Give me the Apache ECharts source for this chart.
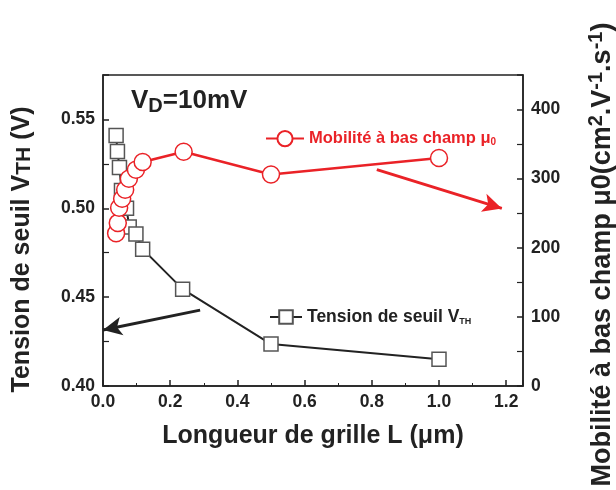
<!DOCTYPE html>
<html>
<head>
<meta charset="utf-8">
<script src="https://cdn.jsdelivr.net/npm/echarts@6/dist/echarts.min.js"></script>
<style>
  html, body { margin: 0; padding: 0; background: #fff; }
  #chart { width: 616px; height: 490px; }
</style>
</head>
<body>
<div id="chart"></div>
<script>
// gate length L (um) and threshold voltage (V)
var lengthVth = [0.039, 0.043, 0.049, 0.055, 0.070, 0.078, 0.098, 0.118, 0.237, 0.50, 1.00];
var vth = [0.541, 0.532, 0.523, 0.510, 0.500, 0.4895, 0.4855, 0.477, 0.4545, 0.4236, 0.415];

// gate length L (um) and low field mobility (cm2/V.s)
var lengthMu = [0.039, 0.044, 0.048, 0.057, 0.066, 0.077, 0.098, 0.118, 0.24, 0.50, 1.00];
var mu = [221, 236, 258, 271, 284, 300, 313, 324, 339, 306, 330];

// arrows pointing at the axes
var arrowVth = [[0.289, 0.4427], [0.0, 0.4315]];
var arrowMu = [[0.815, 313], [1.187, 257]];

var xTicks = { min: 0, max: 1.25, interval: 0.2 };
var leftTicks = { min: 0.40, max: 0.575, interval: 0.05 };
var rightTicks = { min: 0, max: 450, interval: 100 };

function pairs(xs, ys) {
	var out = [];
	for (var i = 0; i < xs.length; i++) {
		out.push([xs[i], ys[i]]);
	}
	return out;
}

var font = "Liberation Sans";
var red = "#ea2227";

var chart = echarts.init(document.getElementById('chart'));

chart.setOption({
	animation: false,
	textStyle: { fontFamily: font },
	title: {
		text: '{b|V}{s|D}{b|=10mV}',
		left: 126,
		top: 81,
		textStyle: {
			rich: {
				b: { fontFamily: font, fontWeight: 'bold', fontSize: 26, color: '#222' },
				s: { fontFamily: font, fontWeight: 'bold', fontSize: 20, color: '#222', padding: [10, 0, 0, 0] }
			}
		}
	},
	grid: {
		left: 103, right: 93, top: 75, bottom: 104,
		outerBoundsMode: 'none',
		show: true, borderColor: '#222', borderWidth: 1.5
	},
	legend: [{
		data: ['mu'],
		left: 260, top: 125,
		itemWidth: 38, itemHeight: 19,
		formatter: function () { return '{t|Mobilité à bas champ μ}{s|0}'; },
		textStyle: {
			rich: {
				t: { fontFamily: font, fontWeight: 'bold', fontSize: 16.5, color: red },
				s: { fontFamily: font, fontWeight: 'bold', fontSize: 10, color: red, padding: [8, 0, 0, 0] }
			}
		}
	}, {
		data: ['vth'],
		left: 264, top: 303,
		itemWidth: 32, itemHeight: 17,
		formatter: function () { return '{t|Tension de seuil V}{s|TH}'; },
		textStyle: {
			rich: {
				t: { fontFamily: font, fontWeight: 'bold', fontSize: 17.5, color: '#222' },
				s: { fontFamily: font, fontWeight: 'bold', fontSize: 9, color: '#222', padding: [9, 0, 0, 0] }
			}
		}
	}],
	xAxis: {
		type: 'value',
		min: xTicks.min, max: xTicks.max, interval: xTicks.interval,
		name: 'Longueur de grille L (μm)',
		nameLocation: 'middle', nameGap: 38,
		nameTextStyle: { fontFamily: font, fontWeight: 'bold', fontSize: 25, color: '#222' },
		axisLine: { lineStyle: { color: '#222', width: 1.5 } },
		axisTick: { inside: true, length: 6, lineStyle: { color: '#222', width: 1.5 } },
		minorTick: { show: true, splitNumber: 2, length: 3, lineStyle: { color: '#222' } },
		axisLabel: {
			fontFamily: font, fontWeight: 'bold', fontSize: 17.5, color: '#222', margin: 7,
			formatter: function (v) { return v > 1.21 ? '' : v.toFixed(1); }
		},
		splitLine: { show: false }
	},
	yAxis: [{
		type: 'value',
		min: leftTicks.min, max: leftTicks.max, interval: leftTicks.interval,
		name: '{b|Tension de seuil V}{s|TH}{b| (V)}',
		nameLocation: 'middle', nameGap: 68, nameRotate: 90,
		nameTextStyle: {
			padding: [0, 38, 0, 0],
			rich: {
				b: { fontFamily: font, fontWeight: 'bold', fontSize: 25, color: '#222' },
				s: { fontFamily: font, fontWeight: 'bold', fontSize: 21, color: '#222', padding: [4, 0, 0, 0] }
			}
		},
		axisLine: { show: true, lineStyle: { color: '#222', width: 1.5 } },
		axisTick: { inside: true, length: 6, lineStyle: { color: '#222', width: 1.5 } },
		minorTick: { show: true, splitNumber: 2, length: 6, lineStyle: { color: '#222', width: 1.2 } },
		axisLabel: {
			fontFamily: font, fontWeight: 'bold', fontSize: 17.5, color: '#222', margin: 8,
			formatter: function (v) { return v > 0.56 ? '' : v.toFixed(2); }
		},
		splitLine: { show: false }
	}, {
		type: 'value',
		min: rightTicks.min, max: rightTicks.max, interval: rightTicks.interval,
		name: '{b|Mobilité à bas champ μ0(cm}{p|2}{b|.V}{p|-1}{b|.s}{p|-1}{b|)}',
		nameLocation: 'middle', nameGap: 63, nameRotate: 90,
		nameTextStyle: {
			padding: [0, 48, 0, 0],
			rich: {
				b: { fontFamily: font, fontWeight: 'bold', fontSize: 27, color: '#222' },
				p: { fontFamily: font, fontWeight: 'bold', fontSize: 20, color: '#222', padding: [0, 0, 13, 0] }
			}
		},
		axisLine: { show: true, lineStyle: { color: '#222', width: 1.5 } },
		axisTick: { inside: true, length: 6, lineStyle: { color: '#222', width: 1.5 } },
		minorTick: { show: true, splitNumber: 2, length: 6, lineStyle: { color: '#222', width: 1.2 } },
		axisLabel: {
			fontFamily: font, fontWeight: 'bold', fontSize: 17.5, color: '#222', margin: 8,
			formatter: function (v) { return v > 440 ? '' : String(v); }
		},
		splitLine: { show: false }
	}],
	series: [{
		name: 'vth',
		type: 'line',
		yAxisIndex: 0,
		data: pairs(lengthVth, vth),
		symbol: 'rect',
		symbolSize: 14,
		lineStyle: { color: '#222', width: 2 },
		itemStyle: { color: '#fff', borderColor: '#555', borderWidth: 1.5 },
		markLine: {
			silent: true,
			symbol: ['none', 'arrow'],
			symbolSize: [14, 19],
			label: { show: false },
			lineStyle: { color: '#222', width: 3, type: 'solid' },
			data: [[{ coord: arrowVth[0] }, { coord: arrowVth[1] }]]
		}
	}, {
		name: 'mu',
		type: 'line',
		yAxisIndex: 1,
		data: pairs(lengthMu, mu),
		symbol: 'circle',
		symbolSize: 17,
		lineStyle: { color: red, width: 2.5 },
		itemStyle: { color: '#fff', borderColor: red, borderWidth: 1.5 },
		markLine: {
			silent: true,
			symbol: ['none', 'arrow'],
			symbolSize: [14, 19],
			label: { show: false },
			lineStyle: { color: red, width: 3, type: 'solid' },
			data: [[{ coord: arrowMu[0] }, { coord: arrowMu[1] }]]
		}
	}]
});
</script>
</body>
</html>
